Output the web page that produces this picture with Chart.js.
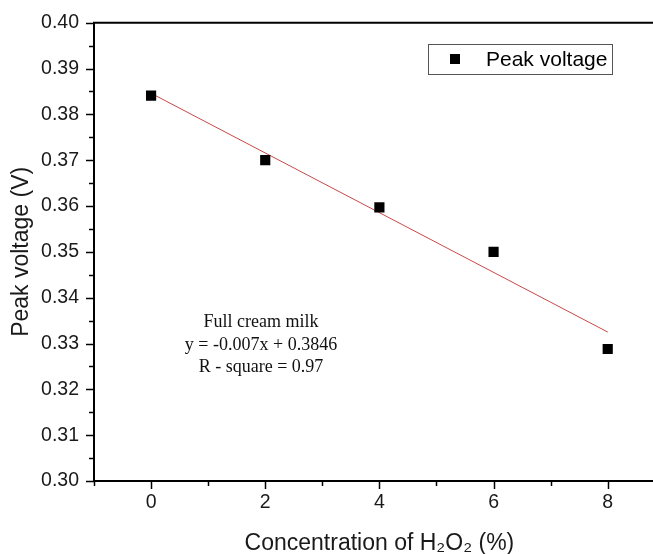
<!DOCTYPE html>
<html>
<head>
<meta charset="utf-8">
<script src="https://cdn.jsdelivr.net/npm/chart.js@4.4.1/dist/chart.umd.min.js"></script>
<style>
  html, body { margin: 0; padding: 0; background: #fff; overflow: hidden; }
  #wrap { width: 672px; height: 564px; margin-top: -4px; }
</style>
</head>
<body>
<div id="wrap"><canvas id="chart" width="672" height="564"></canvas></div>
<script>
// data
const concentration = [0, 2, 4, 6, 8];
const peakVoltage = [0.3841, 0.3700, 0.3597, 0.3500, 0.3288];
const fitX = [0, 8];
const fitY = [0.3846, 0.3325];
const noteLines = ['Full cream milk', 'y = -0.007x + 0.3846', 'R - square = 0.97'];

const axisFont = { family: 'Liberation Sans, Arial, sans-serif', size: 19.5 };

// major + minor ticks, and the top border line
const framePlugin = {
  id: 'frame',
  afterDraw(chart) {
    const { ctx, chartArea: a, scales } = chart;
    ctx.save();
    ctx.strokeStyle = '#000';
    ctx.lineWidth = 2;
    ctx.beginPath();
    ctx.moveTo(a.left - 1, a.top);
    ctx.lineTo(a.right, a.top);
    ctx.stroke();
    ctx.lineWidth = 1.5;
    const x = scales.x, y = scales.y;
    for (let v = -1; v <= 9; v++) {
      const px = Math.round(x.getPixelForValue(v)) + 0.5;
      const len = v % 2 === 0 ? 8 : 5;
      ctx.beginPath();
      ctx.moveTo(px, a.bottom);
      ctx.lineTo(px, a.bottom + len);
      ctx.stroke();
    }
    for (let i = 0; i <= 20; i++) {
      const v = 0.30 + i * 0.005;
      const py = Math.round(y.getPixelForValue(v)) + 0.5;
      const len = i % 2 === 0 ? 8 : 5;
      ctx.beginPath();
      ctx.moveTo(a.left, py);
      ctx.lineTo(a.left - len, py);
      ctx.stroke();
    }
    ctx.restore();
  }
};

// canvas is shifted up 4px by the page, so fixed pixel spots add 4
const notePlugin = {
  id: 'note',
  afterDatasetsDraw(chart) {
    const { ctx } = chart;
    ctx.save();
    ctx.fillStyle = '#111';
    ctx.font = '18px "Liberation Serif", "Times New Roman", serif';
    ctx.textAlign = 'center';
    ctx.textBaseline = 'alphabetic';
    const cx = 261;
    noteLines.forEach((t, i) => ctx.fillText(t, cx, 331 + i * 22.5));

    // legend box
    const ds = chart.data.datasets[0];
    ctx.strokeStyle = '#555';
    ctx.lineWidth = 1;
    ctx.strokeRect(428.5, 48.5, 184, 30);
    ctx.fillStyle = '#000';
    ctx.fillRect(450, 58, 10, 10);
    ctx.font = '21px "Liberation Sans", Arial, sans-serif';
    ctx.textAlign = 'left';
    ctx.textBaseline = 'middle';
    ctx.fillText(ds.label, 486, 64);
    ctx.restore();
  }
};

new Chart(document.getElementById('chart'), {
  type: 'scatter',
  data: {
    datasets: [
      {
        label: 'Peak voltage',
        data: concentration.map((c, i) => ({ x: c, y: peakVoltage[i] })),
        pointStyle: 'rect',
        pointRadius: 7.2,
        pointHoverRadius: 7.2,
        backgroundColor: '#000',
        borderColor: '#000',
        borderWidth: 0,
        order: 1
      },
      {
        label: 'Linear fit',
        type: 'line',
        data: fitX.map((c, i) => ({ x: c, y: fitY[i] })),
        borderColor: '#c94848',
        borderWidth: 1,
        pointRadius: 0,
        fill: false,
        order: 2
      }
    ]
  },
  options: {
    responsive: false,
    animation: false,
    layout: { padding: { top: 18, left: 0, right: 0, bottom: 0 } },
    plugins: { legend: { display: false }, tooltip: { enabled: false } },
    scales: {
      x: {
        type: 'linear',
        min: -1,
        max: 9,
        afterFit(s) { s.height = 79; },
        afterBuildTicks(s) { s.ticks = [0, 2, 4, 6, 8].map(v => ({ value: v })); },
        ticks: { font: axisFont, color: '#1a1a1a', padding: 10, maxRotation: 0 },
        grid: { display: false, drawTicks: false },
        border: { display: true, color: '#000', width: 2 },
        title: {
          display: true,
          text: 'Concentration of H₂O₂ (%)',
          font: { family: 'Liberation Sans, Arial, sans-serif', size: 23 },
          color: '#1a1a1a',
          padding: { top: 8, bottom: 3 }
        }
      },
      y: {
        min: 0.30,
        max: 0.40,
        afterFit(s) { s.width = 94; },
        ticks: {
          stepSize: 0.01,
          font: axisFont,
          color: '#1a1a1a',
          padding: 15,
          callback: v => v.toFixed(2)
        },
        grid: { display: false, drawTicks: false },
        border: { display: true, color: '#000', width: 2 },
        title: {
          display: true,
          text: 'Peak voltage (V)',
          font: { family: 'Liberation Sans, Arial, sans-serif', size: 23 },
          color: '#1a1a1a',
          padding: { top: 8, bottom: 0 }
        }
      }
    }
  },
  plugins: [framePlugin, notePlugin]
});
</script>
</body>
</html>
